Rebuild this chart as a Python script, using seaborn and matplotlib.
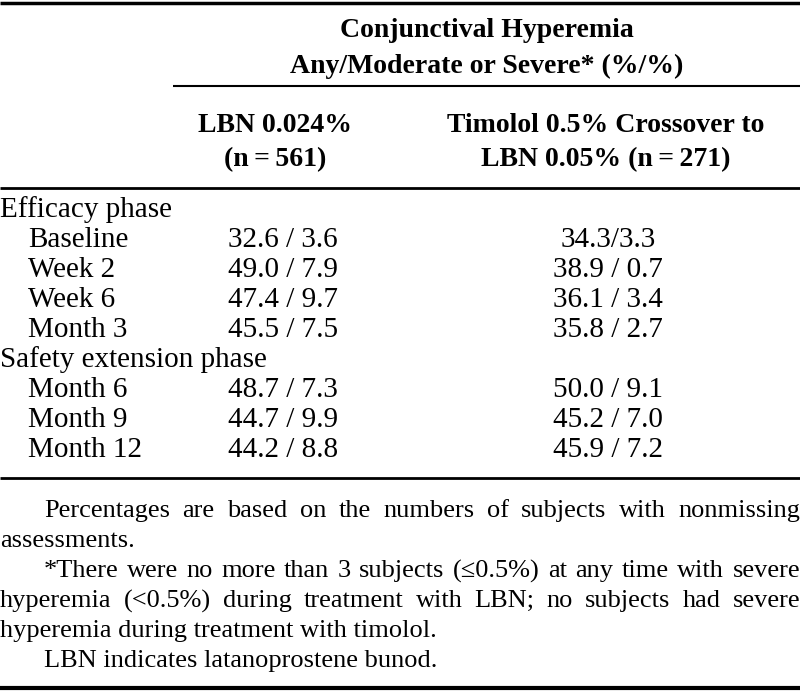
import pandas as pd
import seaborn as sns
import matplotlib.pyplot as plt

# table content
timepoints = ["Baseline", "Week 2", "Week 6", "Month 3", "Month 6", "Month 9", "Month 12"]
phases = ["Efficacy phase", "Safety extension phase"]
phase_of = [0, 0, 0, 0, 1, 1, 1]
lbn_any = [32.6, 49.0, 47.4, 45.5, 48.7, 44.7, 44.2]
lbn_mod = [3.6, 7.9, 9.7, 7.5, 7.3, 9.9, 8.8]
tim_any = [34.3, 38.9, 36.1, 35.8, 50.0, 45.2, 45.9]
tim_mod = [3.3, 0.7, 3.4, 2.7, 9.1, 7.0, 7.2]

header_top = ["Conjunctival Hyperemia", "Any/Moderate or Severe* (%/%)"]
col_heads = [["LBN 0.024%", "(n\u2009=\u2009561)"],
             ["Timolol 0.5% Crossover to", "LBN 0.05% (n\u2009=\u2009271)"]]

footnotes = [
    ("Percentages are based on the numbers of subjects with nonmissing", True, True),
    ("assessments.", False, False),
    ("*There were no more than 3 subjects (\u22640.5%) at any time with severe", True, True),
    ("hyperemia (<0.5%) during treatment with LBN; no subjects had severe", False, True),
    ("hyperemia during treatment with timolol.", False, False),
    ("LBN indicates latanoprostene bunod.", True, False),
]

df = pd.DataFrame({"time": timepoints, "phase": phase_of,
                   "lbn": [f"{a:.1f} / {b:.1f}" for a, b in zip(lbn_any, lbn_mod)],
                   "tim": [f"{a:.1f} / {b:.1f}" for a, b in zip(tim_any, tim_mod)]})
df.loc[0, "tim"] = f"{tim_any[0]:.1f}/{tim_mod[0]:.1f}"

sns.set_theme(style="white")
plt.rcParams['font.family'] = ['Liberation Serif', 'DejaVu Serif']

W, H = 800, 691
fig = plt.figure(figsize=(W / 100, H / 100), dpi=100)
ax = fig.add_axes([0, 0, 1, 1])
ax.set_xlim(0, W)
ax.set_ylim(H, 0)
ax.axis("off")

head = dict(fontsize=20, color="black", va="center", fontweight="bold")
body = dict(fontsize=21, color="black", va="center")
note = dict(fontsize=19, color="black", va="center")

# rules
ax.hlines(3, 0, W, color="black", lw=2.5)
ax.hlines(86, 173, W, color="black", lw=1.5)
ax.hlines(188, 0, W, color="black", lw=2)
ax.hlines(478, 0, W, color="black", lw=2)
ax.hlines(688, 0, W, color="black", lw=3)

# header
ax.text(487, 30, header_top[0], ha="center", **head)
ax.text(487, 66, header_top[1], ha="center", **head)
for cx, lines in zip([275, 606], col_heads):
    ax.text(cx, 125, lines[0], ha="center", **head)
    ax.text(cx, 160, lines[1], ha="center", **head)

# body rows
y = 210
row_h = 30
for p, name in enumerate(phases):
    ax.text(0, y, name, ha="left", **body)
    y += row_h
    for _, r in df[df["phase"] == p].iterrows():
        ax.text(28, y, r["time"], ha="left", **body)
        ax.text(283, y, r["lbn"], ha="center", **body)
        ax.text(608, y, r["tim"], ha="center", **body)
        y += row_h

# footnotes, justified by hand
renderer = fig.canvas.get_renderer()
y = 511
for line, indent, justify in footnotes:
    x0 = 44 if indent else 0
    if not justify:
        ax.text(x0, y, line, ha="left", **note)
    else:
        words = line.split(" ")
        objs = [ax.text(0, y, w, ha="left", **note) for w in words]
        widths = [o.get_window_extent(renderer).width for o in objs]
        gap = (W - x0 - sum(widths)) / (len(words) - 1)
        x = x0
        for o, w in zip(objs, widths):
            o.set_x(x)
            x += w + gap
    y += 30

fig.savefig("out.png", dpi=100)
